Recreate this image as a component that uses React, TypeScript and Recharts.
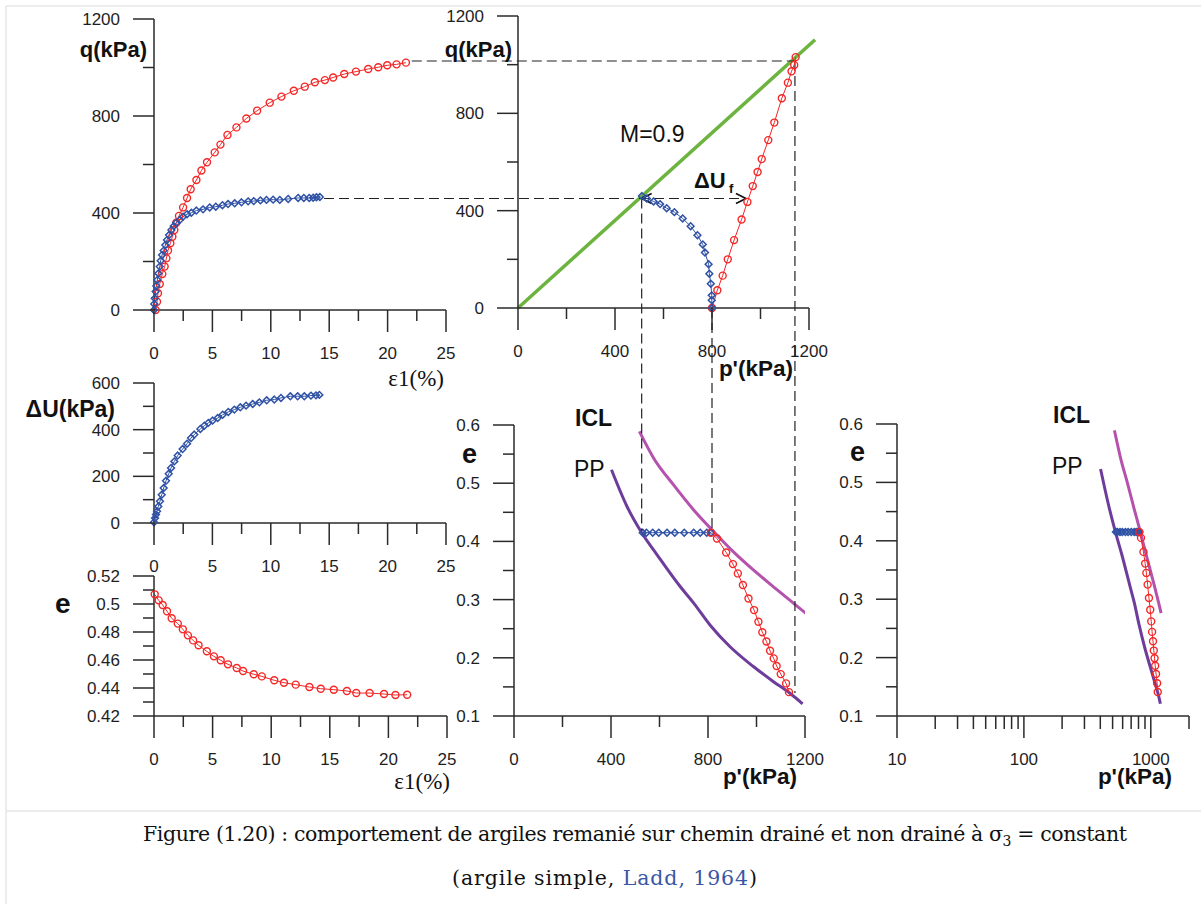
import React from 'react';
import { ComposedChart, Line, XAxis, YAxis, ReferenceLine, ReferenceDot } from 'recharts';

const SANS = '"Liberation Sans", Arial, sans-serif';
const SERIF = '"Liberation Serif", "Times New Roman", serif';
const CAPTION = '"DejaVu Serif", "Liberation Serif", serif';
const RED = '#f42626';
const BLUE = '#2f52a6';
const GREEN = '#6cb43f';
const PURPLE = '#6e3d9c';
const MAGENTA = '#b452ad';
const INK = '#2a2a2a';

// q - eps1 (drained, red circles)
const strainQDrained = [0.14, 0.26, 0.34, 0.49, 0.71, 0.91, 1.06, 1.2, 1.4, 1.57, 1.74, 1.91, 2.14, 2.49, 2.83, 3.14, 3.63, 4.06, 4.54, 5.2, 5.69, 6.29, 7.06, 7.91, 8.83, 9.91, 10.91, 11.97, 12.91, 13.77, 14.63, 15.34, 16.29, 17.29, 18.34, 19.2, 19.97, 20.77, 21.57];
const qDrained = [0, 34, 69, 107, 148, 179, 213, 245, 275, 302, 330, 360, 388, 423, 462, 498, 536, 575, 609, 650, 682, 722, 753, 790, 822, 855, 880, 904, 921, 939, 948, 959, 973, 983, 994, 1001, 1009, 1013, 1020];

// q - eps1 (undrained, blue diamonds)
const strainQUndrained = [0, 0.02, 0.06, 0.14, 0.2, 0.29, 0.37, 0.49, 0.57, 0.69, 0.83, 0.97, 1.11, 1.29, 1.49, 1.69, 1.91, 2.2, 2.49, 2.83, 3.2, 3.63, 4.2, 4.77, 5.29, 5.86, 6.34, 6.91, 7.49, 8.06, 8.54, 9.11, 9.63, 10.2, 10.77, 11.49, 12.34, 12.83, 13.29, 13.63, 13.91, 14.2];
const qUndrained = [0, 25, 48, 76, 99, 124, 151, 179, 203, 227, 245, 268, 289, 309, 330, 346, 360, 371, 385, 395, 401, 410, 415, 423, 426, 432, 437, 440, 444, 448, 449, 452, 454, 455, 454, 458, 462, 462, 462, 463, 465, 466];

// p' - q paths
const pDrainedPath = [800, 822, 844, 865, 891, 922, 946, 968, 988, 1005, 1032, 1057, 1088, 1113, 1128, 1139, 1145];
const qDrainedPath = [0, 73, 133, 200, 279, 364, 436, 501, 559, 612, 690, 762, 862, 926, 973, 999, 1031];
const pUndrainedPath = [800, 799, 799, 795, 789, 786, 771, 762, 740, 712, 679, 645, 613, 586, 559, 531, 511];
const qUndrainedPath = [0, 32, 52, 100, 141, 180, 228, 261, 299, 336, 368, 394, 410, 427, 438, 450, 460];

// Critical state line slope and annotation levels
const M = 0.9;
const pCslEnd = 1225;
const qFailDrained = 1015;
const pFailDrained = 1142;
const qFailUndrained = 450;
const pFailUndrained = 510;
const pArrowRight = 940;
const p0 = 800;

// DeltaU - eps1
const strainDu = [0, 0.09, 0.17, 0.26, 0.37, 0.51, 0.66, 0.83, 1.03, 1.26, 1.46, 1.74, 2.03, 2.45, 2.83, 3.17, 3.45, 3.97, 4.31, 4.65, 5.02, 5.45, 5.88, 6.36, 6.88, 7.39, 7.88, 8.45, 9.02, 9.65, 10.3, 10.87, 11.67, 12.3, 12.87, 13.44, 13.87, 14.16];
const duValues = [3, 21, 36, 50, 71, 93, 121, 150, 181, 211, 236, 264, 289, 317, 340, 364, 379, 403, 417, 429, 439, 450, 464, 476, 486, 496, 503, 510, 517, 526, 529, 536, 543, 543, 543, 546, 547, 549];

// e - eps1 (drained)
const strainE = [0.06, 0.4, 0.74, 1.11, 1.51, 2.03, 2.46, 2.89, 3.34, 3.8, 4.51, 5.11, 5.69, 6.31, 7.06, 7.6, 8.51, 9.2, 10.26, 11.09, 12.09, 13.26, 14.23, 15.34, 16.46, 17.26, 18.4, 19.63, 20.6, 21.6];
const eValues = [0.5069, 0.5026, 0.4993, 0.4948, 0.4898, 0.486, 0.4819, 0.4776, 0.474, 0.4705, 0.4662, 0.4626, 0.4598, 0.4569, 0.4543, 0.4521, 0.4498, 0.4483, 0.4455, 0.4438, 0.4424, 0.4407, 0.4395, 0.4388, 0.4379, 0.4364, 0.4364, 0.4357, 0.435, 0.4352];

// e - p'
const iclP = [517, 576, 658, 741, 823, 905, 987, 1070, 1152, 1205];
const iclE = [0.589, 0.543, 0.497, 0.454, 0.417, 0.382, 0.351, 0.322, 0.294, 0.276];
const ppP = [402, 466, 528, 590, 686, 741, 809, 891, 987, 1070, 1138, 1190];
const ppE = [0.523, 0.46, 0.414, 0.377, 0.322, 0.294, 0.256, 0.219, 0.185, 0.159, 0.139, 0.121];
const pUndrainedE = [531, 546, 572, 597, 631, 663, 702, 741, 768, 795, 812];
const eUndrained = [0.415, 0.415, 0.415, 0.415, 0.415, 0.415, 0.415, 0.415, 0.415, 0.415, 0.415];
const pDrainedE = [812, 837, 875, 903, 923, 944, 967, 990, 1008, 1024, 1041, 1056, 1071, 1083, 1100, 1122, 1134];
const eDrained = [0.415, 0.405, 0.381, 0.361, 0.345, 0.325, 0.302, 0.282, 0.262, 0.244, 0.228, 0.212, 0.199, 0.186, 0.172, 0.156, 0.141];

// Ticks
const strainTicks = [0, 2.5, 5, 7.5, 10, 12.5, 15, 17.5, 20, 22.5, 25];
const strainLabels = [0, 5, 10, 15, 20, 25];
const kpaTicks = [0, 200, 400, 600, 800, 1000, 1200];
const kpaLabels = [0, 400, 800, 1200];
const duTicks = [0, 100, 200, 300, 400, 500, 600];
const duLabels = [0, 200, 400, 600];
const eStrainTicks = [0.42, 0.43, 0.44, 0.45, 0.46, 0.47, 0.48, 0.49, 0.5, 0.51, 0.52];
const eStrainLabels = [0.42, 0.44, 0.46, 0.48, 0.5, 0.52];
const eTicks = [0.1, 0.15, 0.2, 0.25, 0.3, 0.35, 0.4, 0.45, 0.5, 0.55, 0.6];
const eLabels = [0.1, 0.2, 0.3, 0.4, 0.5, 0.6];
const logTicks = [10, 20, 30, 40, 50, 60, 70, 80, 90, 100, 200, 300, 400, 500, 600, 700, 800, 900, 1000, 2000];
const logLabels = [10, 100, 1000];

const zip = (xs: number[], ys: number[]) => xs.map((x, i) => ({ x, y: ys[i] }));
const near = (list: number[], v: number) => list.some((l) => Math.abs(l - v) < 1e-9);

const YW = 80;
const XH = 70;
const PAD = 10;
type Box = { left: number; top: number; w: number; h: number };

const boxQ = { left: 154, top: 19, w: 292, h: 291 };
const boxPQ = { left: 518, top: 16, w: 291, h: 292 };
const boxDu = { left: 154, top: 383, w: 292, h: 140 };
const boxE = { left: 154, top: 576, w: 293, h: 140 };
const boxEP = { left: 514, top: 425, w: 291, h: 291 };
const boxLog = { left: 897, top: 424, w: 292, h: 292 };

const wrap = (b: Box): React.CSSProperties => ({ position: 'absolute', left: b.left - YW, top: b.top - PAD });
const chartProps = (b: Box) => ({
  width: b.w + YW + PAD,
  height: b.h + PAD + XH,
  margin: { top: PAD, right: PAD, bottom: 0, left: 0 },
});

const tickText = { fontFamily: SANS, fontSize: 17, fill: '#1e1e1e' };

const xTick = (p: any, labels: number[], minor = 11) => {
  const { x, y, payload } = p;
  const major = near(labels, payload.value);
  return (
    <g key={`xt-${payload.value}`}>
      <line x1={x} x2={x} y1={y} y2={y + (major ? 22 : minor)} stroke={INK} strokeWidth={1.5} />
      {major && (
        <text x={x} y={y + 49} textAnchor="middle" {...tickText}>
          {String(payload.value)}
        </text>
      )}
    </g>
  );
};

const yTick = (p: any, labels: number[]) => {
  const { x, y, payload } = p;
  const major = near(labels, payload.value);
  return (
    <g key={`yt-${payload.value}`}>
      <line x1={x} x2={x - (major ? 21 : 11)} y1={y} y2={y} stroke={INK} strokeWidth={1.5} />
      {major && (
        <text x={x - 34} y={y + 6} textAnchor="end" {...tickText}>
          {String(payload.value)}
        </text>
      )}
    </g>
  );
};

const axisLine = { stroke: INK, strokeWidth: 1.5 };

const circleDot = (props: any) =>
  props.cx == null ? <g key={`c-${props.index}`} /> : (
    <circle key={`c-${props.index}`} cx={props.cx} cy={props.cy} r={3.5} fill="none" stroke={RED} strokeWidth={1.4} />
  );

const diamondDot = (props: any) => {
  const { cx, cy, index } = props;
  if (cx == null) return <g key={`d-${index}`} />;
  const s = 3.4;
  return (
    <path
      key={`d-${index}`}
      d={`M${cx},${cy - s}L${cx + s},${cy}L${cx},${cy + s}L${cx - s},${cy}Z`}
      fill="none"
      stroke={BLUE}
      strokeWidth={1.5}
    />
  );
};

const dashed = { stroke: '#222', strokeWidth: 1.2, strokeDasharray: '10 5' };

const arrowLeft = (p: any) => (
  <polyline points={`${p.cx + 10},${p.cy - 5} ${p.cx},${p.cy} ${p.cx + 10},${p.cy + 5}`} fill="none" stroke="#111" strokeWidth={1.7} />
);
const arrowRight = (p: any) => (
  <polyline points={`${p.cx - 10},${p.cy - 5} ${p.cx},${p.cy} ${p.cx - 10},${p.cy + 5}`} fill="none" stroke="#111" strokeWidth={1.7} />
);

const xAxisFor = (domain: number[], ticks: number[], labels: number[], extra: any = {}) => (
  <XAxis
    type="number"
    dataKey="x"
    domain={domain}
    ticks={ticks}
    interval={0}
    tickSize={0}
    tickMargin={0}
    tickLine={false}
    height={XH}
    axisLine={axisLine}
    tick={(p: any) => xTick(p, labels, extra.minor)}
    {...extra.props}
  />
);

const yAxisFor = (domain: number[], ticks: number[], labels: number[]) => (
  <YAxis
    type="number"
    domain={domain}
    ticks={ticks}
    interval={0}
    tickSize={0}
    tickMargin={0}
    tickLine={false}
    width={YW}
    axisLine={axisLine}
    tick={(p: any) => yTick(p, labels)}
  />
);

const bold = (size: number) => ({ fontFamily: SANS, fontWeight: 700, fontSize: size, fill: '#111' });
const plain = (size: number) => ({ fontFamily: SANS, fontSize: size, fill: '#111' });

const ePanelSeries = [
  <Line key="icl" type="monotone" data={zip(iclP, iclE)} dataKey="y" stroke={MAGENTA} strokeWidth={3} dot={false} isAnimationActive={false} />,
  <Line key="pp" type="monotone" data={zip(ppP, ppE)} dataKey="y" stroke={PURPLE} strokeWidth={3} dot={false} isAnimationActive={false} />,
  <Line key="ue" data={zip(pUndrainedE, eUndrained)} dataKey="y" stroke={BLUE} strokeWidth={1} dot={diamondDot} isAnimationActive={false} />,
  <Line key="de" data={zip(pDrainedE, eDrained)} dataKey="y" stroke={RED} strokeWidth={1} dot={circleDot} isAnimationActive={false} />,
];

export default function App() {
  return (
    <div style={{ position: 'absolute', left: 0, top: 0, width: 1201, height: 904, background: '#fff' }}>
      <style>{'.recharts-surface{overflow:visible}.recharts-wrapper{overflow:visible}'}</style>

      <div style={wrap(boxQ)}>
        <ComposedChart {...chartProps(boxQ)}>
          {xAxisFor([0, 25], strainTicks, strainLabels)}
          {yAxisFor([0, 1200], kpaTicks, kpaLabels)}
          <Line data={zip(strainQDrained, qDrained)} dataKey="y" stroke={RED} strokeWidth={1} dot={circleDot} isAnimationActive={false} />
          <Line data={zip(strainQUndrained, qUndrained)} dataKey="y" stroke={BLUE} strokeWidth={1} dot={diamondDot} isAnimationActive={false} />
        </ComposedChart>
      </div>

      <div style={wrap(boxDu)}>
        <ComposedChart {...chartProps(boxDu)}>
          {xAxisFor([0, 25], strainTicks, strainLabels)}
          {yAxisFor([0, 600], duTicks, duLabels)}
          <Line data={zip(strainDu, duValues)} dataKey="y" stroke={BLUE} strokeWidth={1} dot={diamondDot} isAnimationActive={false} />
        </ComposedChart>
      </div>

      <div style={wrap(boxE)}>
        <ComposedChart {...chartProps(boxE)}>
          {xAxisFor([0, 25], strainTicks, strainLabels)}
          {yAxisFor([0.42, 0.52], eStrainTicks, eStrainLabels)}
          <Line data={zip(strainE, eValues)} dataKey="y" stroke={RED} strokeWidth={1} dot={circleDot} isAnimationActive={false} />
        </ComposedChart>
      </div>

      <div style={wrap(boxEP)}>
        <ComposedChart {...chartProps(boxEP)}>
          {xAxisFor([0, 1200], kpaTicks, kpaLabels, { props: { allowDataOverflow: true } })}
          {yAxisFor([0.1, 0.6], eTicks, eLabels)}
          {ePanelSeries}
        </ComposedChart>
      </div>

      <div style={wrap(boxLog)}>
        <ComposedChart {...chartProps(boxLog)}>
          {xAxisFor([10, 2000], logTicks, logLabels, { minor: 13, props: { scale: 'log' } })}
          {yAxisFor([0.1, 0.6], eTicks, eLabels)}
          {ePanelSeries}
        </ComposedChart>
      </div>

      <div style={wrap(boxPQ)}>
        <ComposedChart {...chartProps(boxPQ)}>
          {xAxisFor([0, 1200], kpaTicks, kpaLabels)}
          {yAxisFor([0, 1200], kpaTicks, kpaLabels)}
          <ReferenceLine segment={[{ x: 0, y: 0 }, { x: pCslEnd, y: M * pCslEnd }]} ifOverflow="visible" stroke={GREEN} strokeWidth={3.5} />
          <ReferenceLine segment={[{ x: -438, y: qFailDrained }, { x: pFailDrained, y: qFailDrained }]} ifOverflow="visible" {...dashed} />
          <ReferenceLine segment={[{ x: -800, y: qFailUndrained }, { x: pArrowRight, y: qFailUndrained }]} ifOverflow="visible" {...dashed} />
          <ReferenceLine segment={[{ x: pFailUndrained, y: qFailUndrained }, { x: pFailUndrained, y: -916 }]} ifOverflow="visible" {...dashed} />
          <ReferenceLine segment={[{ x: p0, y: 0 }, { x: p0, y: -925 }]} ifOverflow="visible" {...dashed} />
          <ReferenceLine segment={[{ x: pFailDrained, y: qFailDrained }, { x: pFailDrained, y: -1582 }]} ifOverflow="visible" {...dashed} />
          <ReferenceDot x={pFailUndrained} y={qFailUndrained} ifOverflow="visible" shape={arrowLeft} />
          <ReferenceDot x={pArrowRight} y={qFailUndrained} ifOverflow="visible" shape={arrowRight} />
          <Line data={zip(pDrainedPath, qDrainedPath)} dataKey="y" stroke={RED} strokeWidth={1} dot={circleDot} isAnimationActive={false} />
          <Line data={zip(pUndrainedPath, qUndrainedPath)} dataKey="y" stroke={BLUE} strokeWidth={1} dot={diamondDot} isAnimationActive={false} />
        </ComposedChart>
      </div>

      <svg width={1201} height={904} style={{ position: 'absolute', left: 0, top: 0, pointerEvents: 'none' }}>
        <line x1={6} y1={6} x2={1201} y2={6} stroke="#e6e6e6" strokeWidth={1.5} />
        <line x1={6} y1={6} x2={6} y2={904} stroke="#e6e6e6" strokeWidth={1.5} />
        <line x1={6} y1={811} x2={1201} y2={811} stroke="#e6e6e6" strokeWidth={1.5} />

        <text x={147} y={57} textAnchor="end" {...bold(22)}>q(kPa)</text>
        <text x={512} y={57} textAnchor="end" {...bold(22)}>q(kPa)</text>
        <text x={444} y={386} textAnchor="end" fontFamily={SERIF} fontSize={23} fill="#111">ε1(%)</text>
        <text x={620} y={142} {...plain(23)}>M=0.9</text>
        <text x={694} y={188} {...bold(22)}>ΔU</text>
        <text x={729} y={193} {...bold(13)}>f</text>
        <text x={793} y={376} textAnchor="end" {...bold(22.5)}>p'(kPa)</text>

        <text x={115} y={417} textAnchor="end" {...bold(23)}>ΔU(kPa)</text>
        <text x={55} y={613} {...bold(28)}>e</text>
        <text x={450} y={789} textAnchor="end" fontFamily={SERIF} fontSize={23} fill="#111">ε1(%)</text>

        <text x={575} y={426} {...bold(23)}>ICL</text>
        <text x={574} y={477} {...plain(23)}>PP</text>
        <text x={462} y={463} {...bold(27)}>e</text>
        <text x={797} y={784} textAnchor="end" {...bold(22.5)}>p'(kPa)</text>

        <text x={1053} y={423} {...bold(23)}>ICL</text>
        <text x={1052} y={474} {...plain(23)}>PP</text>
        <text x={850} y={461} {...bold(27)}>e</text>
        <text x={1172} y={784} textAnchor="end" {...bold(22.5)}>p'(kPa)</text>

        <text x={143} y={841} textLength={984} fontFamily={CAPTION} fontSize={20.5} fill="#111">
          Figure (1.20) : comportement de argiles remanié sur chemin drainé et non drainé à σ
          <tspan fontSize={14} dy={5}>3</tspan>
          <tspan dy={-5}> = constant</tspan>
        </text>
        <text x={452} y={885} textLength={305} fontFamily={CAPTION} fontSize={20.5} fill="#111">
          (argile simple, <tspan fill="#3a56a5">Ladd, 1964</tspan>)
        </text>
      </svg>
    </div>
  );
}
